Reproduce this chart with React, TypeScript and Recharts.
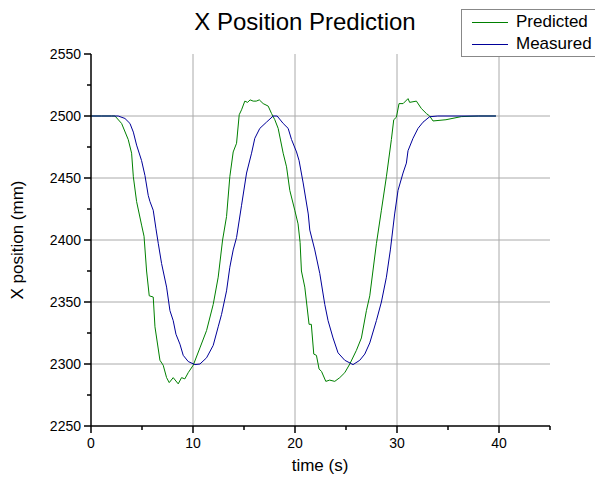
import React from "react";
import { LineChart, Line, XAxis, YAxis, ReferenceLine } from "recharts";

const FONT = '"Liberation Sans", Arial, sans-serif';

// Predicted (green) trace, time in s / position in mm
const predT = [
  0, 1, 2, 2.35, 3.0, 3.65, 3.98, 4.15, 4.47, 4.96, 5.2, 5.45, 5.71, 6.1, 6.27, 6.76, 7.08, 7.41, 7.67,
  8.06, 8.55, 8.88, 9.2, 9.53, 10.02, 10.68, 11.33, 11.98, 12.47, 12.9, 13.29, 13.61, 13.94, 14.27, 14.53,
  14.76, 15.08, 15.35, 15.6, 15.9, 16.2, 16.5, 16.88, 17.37, 17.7, 18.02, 18.35, 18.84, 19.17, 19.49,
  19.98, 20.3, 20.5, 20.63, 20.96, 21.38, 21.6, 21.84, 22.1, 22.36, 22.6, 23.02, 23.4, 23.9, 24.39, 24.88,
  25.37, 26.02, 26.51, 27.0, 27.33, 27.98, 28.47, 28.96, 29.45, 29.68, 29.94, 30.2, 30.6, 31.08, 31.24,
  31.9, 32.39, 32.88, 33.2, 33.53, 34.8, 36.3, 38, 39.7,
];
const predV = [
  2500, 2500, 2500, 2500, 2494, 2481, 2470, 2451, 2431, 2412, 2403, 2375, 2355, 2354, 2330, 2303, 2299, 2289, 2285,
  2289, 2284, 2289, 2288, 2293, 2299, 2313, 2327, 2348, 2370, 2400, 2419, 2451, 2471, 2478, 2501,
  2505, 2512, 2511, 2513, 2512, 2512, 2513, 2510, 2508, 2502, 2497, 2490, 2470, 2459, 2440,
  2424, 2413, 2398, 2375, 2362, 2332, 2332, 2308, 2307, 2296, 2294, 2286, 2287, 2286, 2289, 2293,
  2300, 2311, 2321, 2343, 2355, 2397, 2424, 2451, 2481, 2497, 2499, 2510, 2510, 2514, 2511,
  2512, 2506, 2502, 2500, 2496, 2497, 2499.5, 2500, 2500,
];

// Measured (blue) trace
const measT = [
  0, 1, 2, 2.67, 3.33, 3.82, 4.15, 4.47, 4.96, 5.29, 5.61, 5.78, 6.1, 6.37, 6.6, 6.92, 7.41, 7.74, 8.06,
  8.33, 8.72, 9.04, 9.53, 10.19, 10.68, 11.33, 11.98, 12.47, 12.8, 13.29, 13.61, 13.94, 14.27, 14.76,
  15.25, 15.74, 16.06, 16.55, 17.2, 17.86, 18.25, 18.84, 19.33, 19.66, 20.15, 20.4, 20.8, 21.3, 21.45,
  21.94, 22.43, 22.92, 23.24, 23.73, 24.22, 24.88, 25.69, 26.35, 26.84, 27.33, 27.98, 28.47, 28.96,
  29.35, 29.77, 30.1, 30.59, 30.92, 31.08, 31.57, 32.06, 32.55, 33.2, 34, 39.7,
];
const measV = [
  2500, 2500, 2500, 2500, 2498, 2494, 2487, 2476.5, 2464, 2452, 2436, 2431, 2424, 2409, 2397, 2381, 2362, 2343, 2335,
  2324, 2316, 2307, 2302, 2299.5, 2300, 2305, 2315, 2330, 2340, 2359, 2378, 2392, 2402, 2428,
  2454, 2470, 2482, 2490, 2495, 2500, 2500, 2494, 2490, 2481, 2471, 2464, 2446, 2421, 2408,
  2392, 2373, 2348, 2335, 2321, 2309, 2303, 2299.5, 2303, 2308, 2317, 2335, 2350, 2370,
  2392, 2421, 2440, 2454, 2462, 2472, 2482, 2490, 2495, 2499.4, 2500, 2500,
];

const xTicks = [0, 5, 10, 15, 20, 25, 30, 35, 40, 45];
const yTicks = [2250, 2275, 2300, 2325, 2350, 2375, 2400, 2425, 2450, 2475, 2500, 2525, 2550];
const xGrid = [10, 20, 30, 40];
const yGrid = [2300, 2350, 2400, 2450, 2500];

const predData = predT.map((t, i) => ({ t, v: predV[i] }));
const measData = measT.map((t, i) => ({ t, v: measV[i] }));

const GREEN = "#008000";
const BLUE = "#000099";

function XTick({ x, y, payload }: any) {
  const major = payload.value % 10 === 0;
  return (
    <g>
      <line x1={x} x2={x} y1={y} y2={y + (major ? 7 : 4)} stroke="#000" strokeWidth={1.5} />
      {major && (
        <text x={x} y={y + 22} textAnchor="middle" fontSize={14} fontFamily={FONT} fill="#000">
          {payload.value}
        </text>
      )}
    </g>
  );
}

function YTick({ x, y, payload }: any) {
  const major = payload.value % 50 === 0;
  return (
    <g>
      <line x1={x - (major ? 7 : 4)} x2={x} y1={y} y2={y} stroke="#000" strokeWidth={1.5} />
      {major && (
        <text x={x - 10} y={y + 5} textAnchor="end" fontSize={14} fontFamily={FONT} fill="#000">
          {payload.value}
        </text>
      )}
    </g>
  );
}

function LegendBox() {
  const rows = [
    { name: "Predicted", color: GREEN },
    { name: "Measured", color: BLUE },
  ];
  return (
    <div
      style={{
        position: "absolute",
        left: 461,
        top: 9,
        width: 140,
        border: "1px solid #888",
        background: "#fff",
        padding: "1px 0 1px 0",
        fontFamily: FONT,
        fontSize: 17,
        lineHeight: "22px",
      }}
    >
      {rows.map((r) => (
        <div key={r.name} style={{ display: "flex", alignItems: "center" }}>
          <span
            style={{
              display: "inline-block",
              width: 36,
              height: 0,
              borderTop: `1.5px solid ${r.color}`,
              marginLeft: 10,
              marginRight: 8,
            }}
          />
          <span>{r.name}</span>
        </div>
      ))}
    </div>
  );
}

export default function App() {
  return (
    <div style={{ position: "absolute", left: 0, top: 0, width: 595, height: 481, background: "#fff", overflow: "hidden" }}>
      <div
        style={{
          position: "absolute",
          left: 0,
          top: 8,
          width: 610,
          textAlign: "center",
          fontFamily: FONT,
          fontSize: 24,
        }}
      >
        X Position Prediction
      </div>
      <LineChart width={595} height={481} margin={{ top: 54, right: 45, left: 31, bottom: 25 }}>
        {xGrid.map((g) => (
          <ReferenceLine key={"x" + g} x={g} stroke="#aaaaaa" strokeWidth={1} />
        ))}
        {yGrid.map((g) => (
          <ReferenceLine key={"y" + g} y={g} stroke="#aaaaaa" strokeWidth={1} />
        ))}
        <XAxis
          type="number"
          dataKey="t"
          domain={[0, 45]}
          ticks={xTicks}
          interval={0}
          height={30}
          tickSize={0}
          tickMargin={0}
          tickLine={false}
          tick={<XTick />}
          axisLine={{ stroke: "#000", strokeWidth: 1.5 }}
          allowDataOverflow
        />
        <YAxis
          type="number"
          dataKey="v"
          domain={[2250, 2550]}
          ticks={yTicks}
          interval={0}
          width={60}
          tickSize={0}
          tickMargin={0}
          tickLine={false}
          tick={<YTick />}
          axisLine={{ stroke: "#000", strokeWidth: 1.5 }}
          allowDataOverflow
        />
        <Line
          data={predData}
          dataKey="v"
          name="Predicted"
          type="linear"
          stroke={GREEN}
          strokeWidth={1}
          dot={false}
          isAnimationActive={false}
        />
        <Line
          data={measData}
          dataKey="v"
          name="Measured"
          type="linear"
          stroke={BLUE}
          strokeWidth={1}
          dot={false}
          isAnimationActive={false}
        />
      </LineChart>
      <LegendBox />
      <div
        style={{
          position: "absolute",
          left: 220,
          width: 200,
          top: 456,
          textAlign: "center",
          fontFamily: FONT,
          fontSize: 17,
        }}
      >
        time (s)
      </div>
      <div
        style={{
          position: "absolute",
          left: 18 - 100,
          top: 240 - 11,
          width: 200,
          height: 22,
          textAlign: "center",
          fontFamily: FONT,
          fontSize: 17,
          lineHeight: "22px",
          transform: "rotate(-90deg)",
        }}
      >
        X position (mm)
      </div>
    </div>
  );
}
